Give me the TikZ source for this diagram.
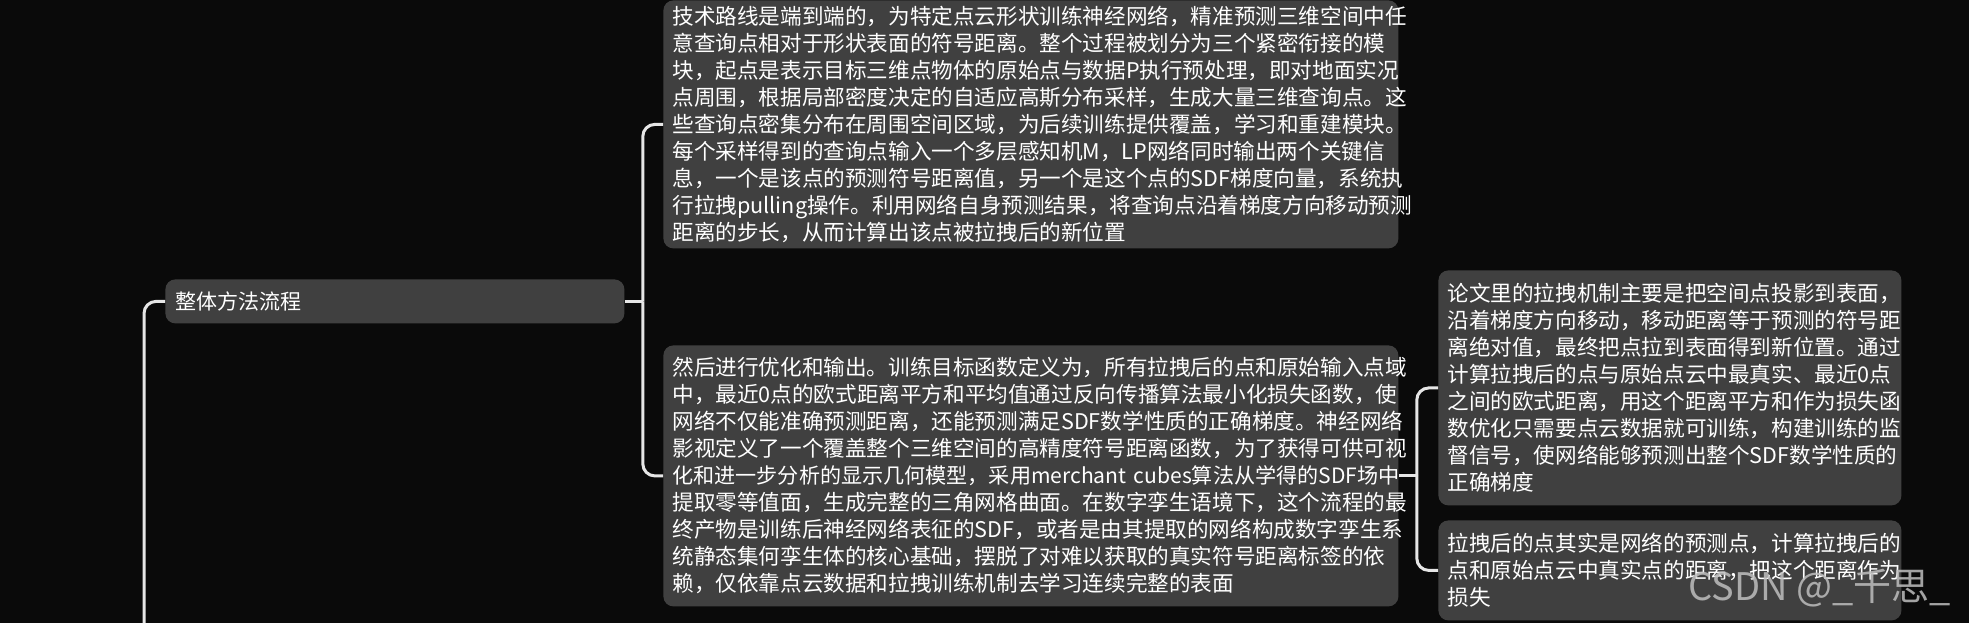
\documentclass[tikz,border=0pt]{standalone}
\usepackage{fontspec}
\setmainfont{Noto Sans CJK SC}
\usepackage{tikz}
\usetikzlibrary{positioning}
\definecolor{bgdark}{HTML}{0A0A0A}
\definecolor{boxgray}{HTML}{404040}
\definecolor{linkgray}{HTML}{E6E6E6}
\definecolor{marktext}{HTML}{BEBEBE}
\hyphenpenalty=10000
\exhyphenpenalty=10000
\tikzset {
  % rounded text boxes of the mind map
  box/.style = {fill=boxgray, rounded corners=5pt, text=white, align=left,
    anchor=north west, inner xsep=4.5pt, inner ysep=0pt,
    font=\fontsize{10.8}{13.5}\selectfont},
  wide/.style = {box, text width=358.5pt},
  narrow/.style = {box, text width=222.5pt},
  % branches between boxes
  link/.style = {draw=linkgray, line width=1.5pt, rounded corners=6pt},
}

\begin{document}
\begin{tikzpicture}[x=0.5pt, y=-0.5pt]
        \fill[bgdark] (0,0) rectangle (1969,623);
        \useasboundingbox (0,0) rectangle (1969,623);

        \node[box, text width=219.5pt, inner xsep=5pt, minimum height=22pt,
          font=\fontsize{10.5}{13}\selectfont] (flow) at (165,279) {整体方法流程};

        \node[wide, minimum height=124pt] (pull) at (663,0) {%
技术路线是端到端的，为特定点云形状训练神经网络，精准预测三维空间中任\\
意查询点相对于形状表面的符号距离。整个过程被划分为三个紧密衔接的模\\
块，起点是表示目标三维点物体的原始点与数据P执行预处理，即对地面实况\\
点周围，根据局部密度决定的自适应高斯分布采样，生成大量三维查询点。这\\
些查询点密集分布在周围空间区域，为后续训练提供覆盖，学习和重建模块。\\
每个采样得到的查询点输入一个多层感知机M，LP网络同时输出两个关键信\\
息，一个是该点的预测符号距离值，另一个是这个点的SDF梯度向量，系统执\\
行拉拽pulling操作。利用网络自身预测结果，将查询点沿着梯度方向移动预测\\
距离的步长，从而计算出该点被拉拽后的新位置};

        \node[wide, minimum height=130.5pt] (opt) at (663,345) {%
然后进行优化和输出。训练目标函数定义为，所有拉拽后的点和原始输入点域\\
中，最近0点的欧式距离平方和平均值通过反向传播算法最小化损失函数，使\\
网络不仅能准确预测距离，还能预测满足SDF数学性质的正确梯度。神经网络\\
影视定义了一个覆盖整个三维空间的高精度符号距离函数，为了获得可供可视\\
{\fontsize{10.55}{13.5}\selectfont 化和进一步分析的显示几何模型，采用merchant~cubes算法从学得的SDF场中}\\
提取零等值面，生成完整的三角网格曲面。在数字孪生语境下，这个流程的最\\
终产物是训练后神经网络表征的SDF，或者是由其提取的网络构成数字孪生系\\
统静态集何孪生体的核心基础，摆脱了对难以获取的真实符号距离标签的依\\
赖，仅依靠点云数据和拉拽训练机制去学习连续完整的表面};

        \node[narrow, minimum height=117.5pt] (proj) at (1438,270) {%
论文里的拉拽机制主要是把空间点投影到表面，\\
沿着梯度方向移动，移动距离等于预测的符号距\\
离绝对值，最终把点拉到表面得到新位置。通过\\
计算拉拽后的点与原始点云中最真实、最近0点\\
之间的欧式距离，用这个距离平方和作为损失函\\
数优化只需要点云数据就可训练，构建训练的监\\
督信号，使网络能够预测出整个SDF数学性质的\\
正确梯度};

        \node[narrow, minimum height=50pt] (loss) at (1438,520) {%
拉拽后的点其实是网络的预测点，计算拉拽后的\\
点和原始点云中真实点的距离，把这个距离作为\\
损失};

        \coordinate (root) at (144,623);
        \draw[link] (flow.west) -| (root);

        \draw[link] (flow.east) -- ++(18,0) coordinate (jflow);
        \draw[link] (jflow) |- (pull.west);
        \draw[link] (jflow) |- (opt.west);

        \draw[link] (opt.east) -- ++(18,0) coordinate (jopt);
        \draw[link] (jopt) |- (proj.west);
        \draw[link] (jopt) |- (loss.west);

        \node[anchor=south east, text=marktext, opacity=0.85,
          font=\fontsize{19}{19}\selectfont] (mark) at (1958,614) {CSDN @\_千思\_};
      \end{tikzpicture}
\end{document}
